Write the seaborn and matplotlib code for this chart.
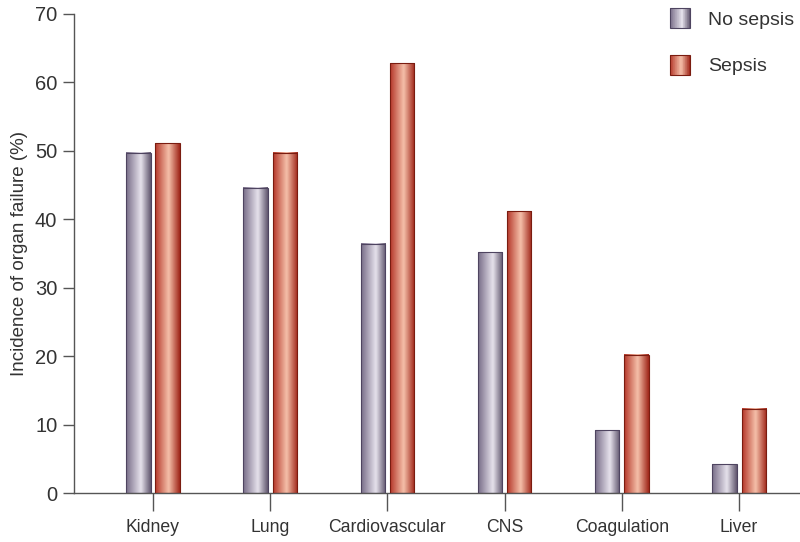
import numpy as np
import pandas as pd
import matplotlib
matplotlib.use("Agg")
import matplotlib.pyplot as plt
import seaborn as sns
from matplotlib.colors import LinearSegmentedColormap
from matplotlib.patches import Rectangle
from matplotlib.legend_handler import HandlerBase

# ---------------------------------------------------------
# Data
# ---------------------------------------------------------
organs = ['Kidney', 'Lung', 'Cardiovascular', 'CNS', 'Coagulation', 'Liver']
no_sepsis = [49.7, 44.6, 36.4, 35.2, 9.2, 4.2]
sepsis = [51.1, 49.7, 62.8, 41.2, 20.2, 12.3]
groups = ['No sepsis', 'Sepsis']
y_ticks = [0, 10, 20, 30, 40, 50, 60, 70]

df = pd.DataFrame({
    'Organ': organs * 2,
    'Group': [groups[0]] * len(organs) + [groups[1]] * len(organs),
    'Incidence': no_sepsis + sepsis,
})

# cylinder-like shading for each group
cmaps = [
    LinearSegmentedColormap.from_list('nosep', [(0, '#786d88'), (0.6, '#e6e2ec'), (1, '#62576f')]),
    LinearSegmentedColormap.from_list('sep', [(0, '#b5382a'), (0.55, '#f5c0aa'), (1, '#a0271a')]),
]
edge_colors = ['#4e4460', '#7a1c10']

sns.set_theme(style='ticks')
plt.rcParams['font.family'] = ['Liberation Sans', 'DejaVu Sans']

fig = plt.figure(figsize=(8, 5.42), dpi=100)
ax = fig.add_axes([0.0925, 0.0904, 0.9075, 0.8838])

sns.barplot(
    data=df,
    x='Organ',
    y='Incidence',
    hue='Group',
    hue_order=groups,
    order=organs,
    palette=['#9a8fab', '#c9452f'],
    width=0.5,
    gap=0.17,
    legend=False,
    ax=ax,
)

# replace flat fills with horizontal gradients
grad = np.linspace(0, 1, 64).reshape(1, -1)
for i, cont in enumerate(ax.containers):
    for bar in cont:
        x, w, h = bar.get_x(), bar.get_width(), bar.get_height()
        ax.imshow(grad, extent=(x, x + w, 0, h), aspect='auto', cmap=cmaps[i],
                  interpolation='bicubic', zorder=2)
        bar.set_facecolor('none')
        bar.set_edgecolor(edge_colors[i])
        bar.set_linewidth(0.8)
        bar.set_zorder(3)

ax.set_xlim(-0.674, 5.52)
ax.set_ylim(0, 70)
ax.set_yticks(y_ticks)
ax.set_xlabel('')
ax.set_ylabel('Incidence of organ failure (%)', fontsize=13.5, color='#333333', labelpad=5)

sns.despine(ax=ax)
ax.spines['left'].set_bounds(0, 70)
for s in ['left', 'bottom']:
    ax.spines[s].set_color('#555555')
    ax.spines[s].set_linewidth(1)
ax.tick_params(axis='y', length=8, width=1, color='#555555', labelsize=14.5,
               labelcolor='#333333', pad=4)
ax.tick_params(axis='x', length=13, width=1, color='#555555', labelsize=12.7,
               labelcolor='#333333', pad=6)


class GradientHandler(HandlerBase):
    def __init__(self, cmap, edge):
        super().__init__()
        self.cmap = cmap
        self.edge = edge

    def create_artists(self, legend, orig_handle, xdescent, ydescent,
                       width, height, fontsize, trans):
        n = 30
        arts = []
        for k in range(n):
            arts.append(Rectangle((-xdescent + width * k / n, -ydescent), width / n, height,
                                  facecolor=self.cmap((k + 0.5) / n), edgecolor='none',
                                  transform=trans))
        arts.append(Rectangle((-xdescent, -ydescent), width, height, facecolor='none',
                              edgecolor=self.edge, linewidth=0.8, transform=trans))
        return arts


handles = [Rectangle((0, 0), 1, 1) for _ in groups]
fig.legend(
    handles, groups,
    handler_map={handles[i]: GradientHandler(cmaps[i], edge_colors[i]) for i in range(2)},
    loc='upper left',
    bbox_to_anchor=(664 / 800, 1 - 2 / 542),
    frameon=False,
    fontsize=14,
    handlelength=1.03,
    handleheight=1.24,
    labelspacing=1.34,
    handletextpad=0.93,
    borderaxespad=0,
    borderpad=0.3,
    labelcolor='#333333',
)

fig.savefig('out.png', dpi=100)
